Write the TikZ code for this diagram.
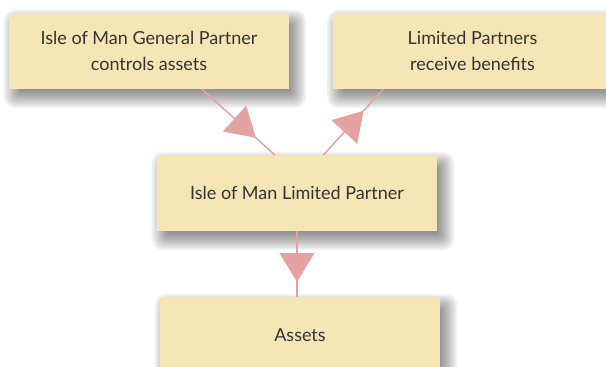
\documentclass[tikz,border=0pt]{standalone}
\usepackage{fontspec}
\setmainfont{Lato}
\usetikzlibrary{positioning, calc, arrows.meta, decorations.markings, backgrounds}
\definecolor{boxfill}{RGB}{247, 230, 181}
\definecolor{linkpink}{RGB}{228, 162, 161}
\definecolor{textgrey}{RGB}{51, 51, 51}

\begin{document}
\begin{tikzpicture}[x=0.75pt, y=0.75pt,
    box/.style={rectangle, fill=boxfill, text=textgrey, font=\fontsize{13.5}{19}\selectfont, align=center, minimum width=210pt, minimum height=56.6pt, inner sep=0pt},
    softshade/.style={fill=black, opacity=0.055},
    flow/.style={draw=linkpink, line width=1.1pt, postaction={decorate, decoration={markings, mark=at position #1 with {\arrow{Triangle[length=21.5pt, width=26pt, color=linkpink]}}}}}]
                \useasboundingbox (0,0) rectangle (606,-367);
                \clip (0,0) rectangle (606,-367);

                % Kasten oben
                \node[box] (gp) at (149,-51) {Isle of Man General Partner\\controls assets};
                \node[box] (lps) at (472.5,-51) {Limited Partners\\receive benefits};
                
                % Mitte und unten
                \node[box] (ltd) at (297,-193) {Isle of Man Limited Partner};
                \node[box] (assets) at (300,-335) {Assets};

                % weiche Schatten hinter den Kaesten
                \begin{scope}[on background layer]
                    \clip (0,0) rectangle (606,-367);
                    \fill[white] (0,0) rectangle (606,-367);
                    \foreach \n in {gp,lps,ltd,assets}
                        \foreach \g in {-5,-3,...,11}
                            \fill[softshade, rounded corners=\g*0.5pt+3pt] ($(\n.south west)+(6-\g,-8-\g)$) rectangle ($(\n.north east)+(6+\g,-8+\g)$);
                \end{scope}

                % Verbindungen mit Pfeil in der Mitte
                \draw[flow=0.74] ($(gp.south)+(52.7,0)$) -- ($(ltd.north)+(-22,0)$);
                \draw[flow=0.67] ($(ltd.north)+(26.3,0)$) -- ($(lps.south)+(-89,0)$);
                \draw[flow=0.77] (ltd.south) -- (ltd.south |- assets.north);
            \end{tikzpicture}
\end{document}
